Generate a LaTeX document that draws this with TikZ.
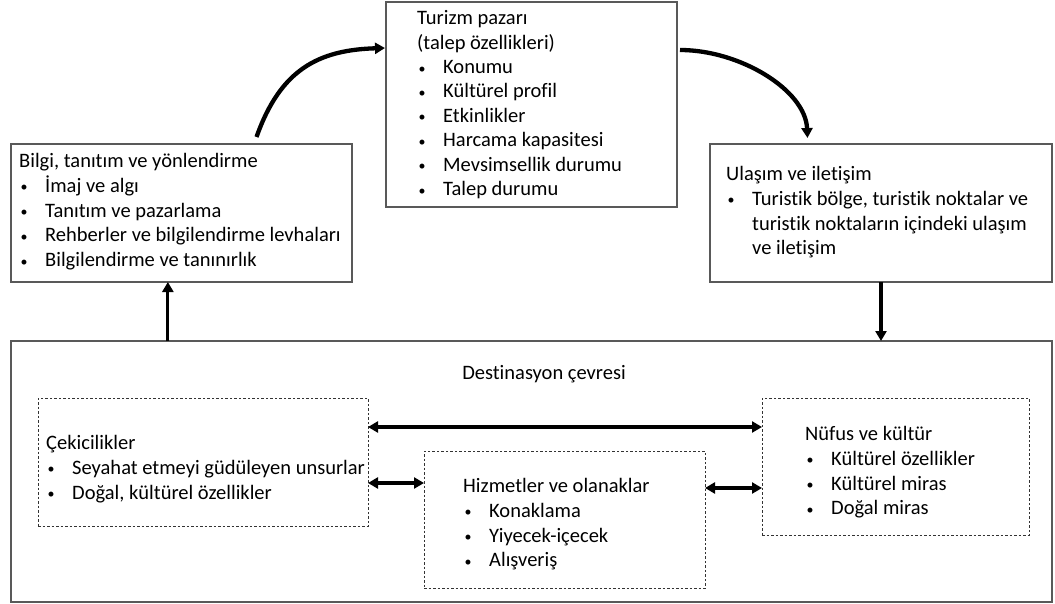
\documentclass[tikz,border=0pt]{standalone}
\usepackage{fontspec}
\setmainfont[Ligatures={NoCommon}]{Carlito}
\usetikzlibrary{arrows.meta,calc}
\newcommand\myb{\makebox[26pt][l]{\hspace*{1.5pt}\raisebox{0.5pt}{\fontsize{14}{14}\selectfont •}}}
\newcommand\myind{\hspace*{26pt}}
\begin{document}
\begin{tikzpicture}[x=1pt,y=1pt,
  box/.style={draw=black!65, line width=1.2pt, inner sep=0pt, outer sep=0pt, anchor=north west},
  dbox/.style={draw=black!80, line width=0.8pt, dash pattern=on 2.5pt off 2pt, inner sep=0pt, outer sep=0pt, anchor=north west},
  txt/.style={anchor=north west, align=left, inner sep=0pt, font=\fontsize{20.5}{24.8}\selectfont},
  arr/.style={line width=3.2pt, -{Triangle[length=10pt,width=11pt]}},
  carr/.style={line width=4.3pt, -{Triangle[length=10pt,width=11pt]}},
  darr/.style={line width=3.2pt, {Triangle[length=10pt,width=11pt]}-{Triangle[length=10pt,width=11pt]}},
]
\useasboundingbox (0,0) rectangle (1055,-604);
% boxes
\node[box, minimum width=341pt, minimum height=138pt] (bilgi) at (11,-144) {};
\node[box, minimum width=291pt, minimum height=205pt] (turizm) at (386,-2) {};
\node[box, minimum width=342pt, minimum height=138pt] (ulasim) at (710,-144) {};
\node[box, minimum width=1041pt, minimum height=261pt] (dest) at (11,-341) {};
\node[dbox, minimum width=330pt, minimum height=128pt] (cek) at (38,-398) {};
\node[dbox, minimum width=281pt, minimum height=137pt] (hiz) at (424,-451) {};
\node[dbox, minimum width=267pt, minimum height=137pt] (nuf) at (762,-398) {};
% texts
\node[txt] (bilgitxt) at (19,-150) {\strut Bilgi, tanıtım ve yönlendirme\\
\myb İmaj ve algı\\ \myb Tanıtım ve pazarlama\\ \myb Rehberler ve bilgilendirme levhaları\\ \myb Bilgilendirme ve tanınırlık};
\node[txt, font=\fontsize{20.5}{24.4}\selectfont] (turizmtxt) at (417,-7.5) {\strut Turizm pazarı\\ (talep özellikleri)\\
\myb Konumu\\ \myb Kültürel profil\\ \myb Etkinlikler\\ \myb Harcama kapasitesi\\ \myb Mevsimsellik durumu\\ \myb Talep durumu};
\node[txt] (ulasimtxt) at (726,-163) {\strut Ulaşım ve iletişim\\
\myb Turistik bölge, turistik noktalar ve\\ \myind turistik noktaların içindeki ulaşım\\ \myind ve iletişim};
\node[anchor=base, inner sep=0pt, font=\fontsize{20.5}{24.8}\selectfont] (desttxt) at (544,-379) {Destinasyon çevresi};
\node[txt] (cektxt) at (46,-432) {\strut Çekicilikler\\
\myb Seyahat etmeyi güdüleyen unsurlar\\ \myb Doğal, kültürel özellikler};
\node[txt] (hiztxt) at (463,-475) {\strut Hizmetler ve olanaklar\\
\myb Konaklama\\ \myb Yiyecek-içecek\\ \myb Alışveriş};
\node[txt] (nuftxt) at (805,-423) {\strut Nüfus ve kültür\\
\myb Kültürel özellikler\\ \myb Kültürel miras\\ \myb Doğal miras};
% connectors
\coordinate (b1) at ($(bilgi.south west)!0.46!(bilgi.south east)$);
\draw[arr] (b1 |- dest.north) -- (b1);
\draw[arr] (ulasim.south) -- (ulasim.south |- dest.north);
\coordinate (c1) at ($(bilgi.north west)!0.72!(bilgi.north east)+(0,7)$);
\coordinate (c2) at ($(turizm.north west)+(-1,-46)$);
\draw[carr] (c1) .. controls ($(c1)+(24,68)$) and ($(c2)+(-66,-2)$) .. (c2);
\coordinate (c3) at ($(turizm.north east)+(3,-48)$);
\coordinate (c4) at ($(ulasim.north west)!0.285!(ulasim.north east)+(0,6)$);
\draw[carr] (c3) .. controls ($(c3)+(60,0)$) and ($(c4)+(-2,48)$) .. (c4);
\draw[darr] (cek.east |- 0,-427) -- (nuf.west |- 0,-427);
\draw[darr] (cek.east |- 0,-483) -- (hiz.west |- 0,-483);
\draw[darr] (hiz.east |- 0,-488) -- (nuf.west |- 0,-488);
\end{tikzpicture}
\end{document}
